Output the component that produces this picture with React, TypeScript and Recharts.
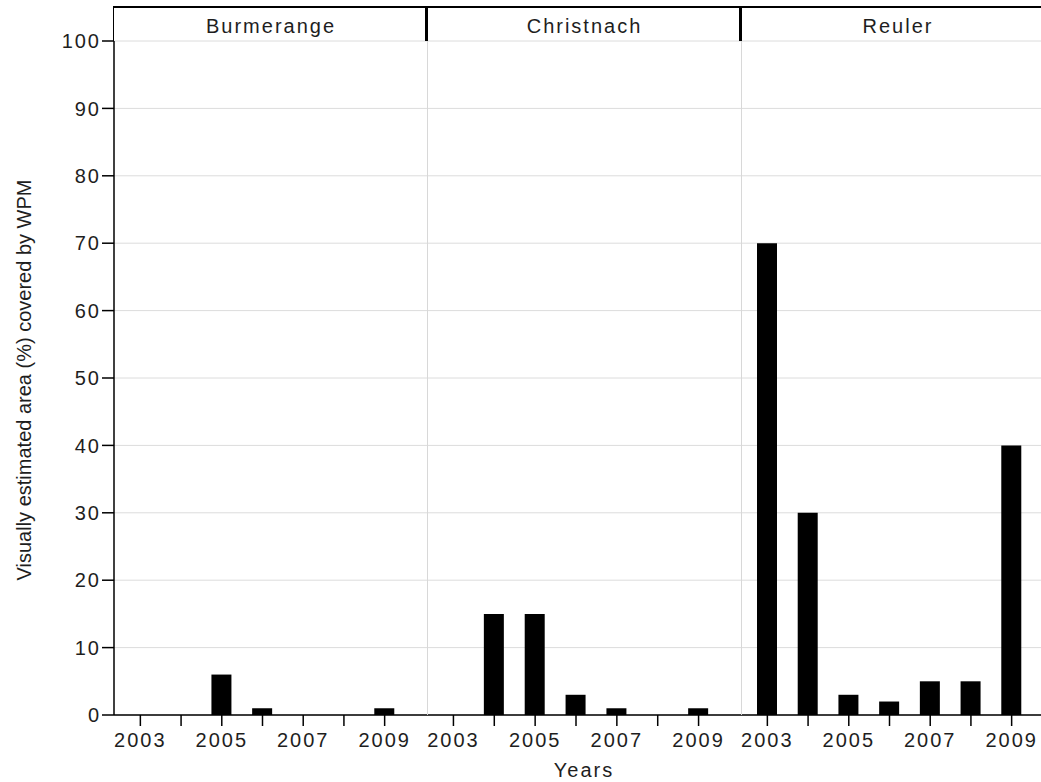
import { BarChart, Bar, XAxis, YAxis, CartesianGrid } from 'recharts';

const years = ['2003', '2004', '2005', '2006', '2007', '2008', '2009'];
const sites = ['Burmerange', 'Christnach', 'Reuler'];
const burmerange = [0, 0, 6, 1, 0, 0, 1];
const christnach = [0, 15, 15, 3, 1, 0, 1];
const reuler = [70, 30, 3, 2, 5, 5, 40];
const yTicks = [0, 10, 20, 30, 40, 50, 60, 70, 80, 90, 100];
const labeledYears = ['2003', '2005', '2007', '2009'];

const siteValues = [burmerange, christnach, reuler];

// panel geometry (plot areas sit side by side)
const panelLeft = [114, 427, 741];
const panelWidth = [313, 314, 313];
const plotTop = 41;
const plotBottom = 715;
const chartHeight = 782;

const font = '"Liberation Sans", Arial, sans-serif';
const textColor = '#1e1e1e';

function Panel({ idx }: { idx: number }) {
  const data = years.map((y, i) => ({ year: y, value: siteValues[idx][i] }));
  const first = idx === 0;
  const left = first ? 0 : panelLeft[idx];
  const width = first ? panelLeft[0] + panelWidth[0] : panelWidth[idx];

  return (
    <div style={{ position: 'absolute', left, top: 0 }}>
      <BarChart
        width={width}
        height={chartHeight}
        data={data}
        margin={{ top: plotTop, right: 0, bottom: 0, left: 0 }}
        barCategoryGap={0}
      >
        <CartesianGrid horizontal vertical={false} stroke="#dcdcdc" strokeWidth={1} />
        <XAxis
          dataKey="year"
          type="category"
          interval={0}
          height={chartHeight - plotBottom}
          padding={{ left: 6, right: 22 }}
          tickSize={11}
          tickMargin={7}
          axisLine={{ stroke: '#000', strokeWidth: 1.5 }}
          tickLine={{ stroke: '#000', strokeWidth: 1.5 }}
          tick={{ fontSize: 20, fill: textColor, fontFamily: font }}
          tickFormatter={(v: string) => (labeledYears.includes(v) ? v : '')}
        />
        <YAxis
          hide={!first}
          domain={[0, 100]}
          ticks={yTicks}
          width={114}
          tickSize={12}
          tickMargin={1}
          axisLine={{ stroke: '#000', strokeWidth: 1.5 }}
          tickLine={{ stroke: '#000', strokeWidth: 1.5 }}
          tick={{ fontSize: 20, fill: textColor, fontFamily: font }}
        />
        <Bar dataKey="value" fill="#000" barSize={20} isAnimationActive={false} />
      </BarChart>
    </div>
  );
}

export default function App() {
  return (
    <div
      style={{
        position: 'fixed',
        left: 0,
        top: 0,
        width: 1041,
        height: 782,
        overflow: 'hidden',
        background: '#fff',
        fontFamily: font,
      }}
    >
      <style>{`
        .recharts-cartesian-axis-tick-value { letter-spacing: 2px; }
      `}</style>

      {sites.map((_, i) => (
        <Panel key={i} idx={i} />
      ))}

      {/* light panel separators */}
      {[1, 2].map((i) => (
        <div
          key={'sep' + i}
          style={{
            position: 'absolute',
            left: panelLeft[i],
            top: plotTop,
            width: 1,
            height: plotBottom - plotTop,
            background: '#d8d8d8',
          }}
        />
      ))}

      {/* strip headers */}
      {sites.map((name, i) => (
        <div
          key={name}
          style={{
            position: 'absolute',
            left: i === 0 ? panelLeft[0] - 1 : panelLeft[i] - 2,
            top: 6,
            width: panelWidth[i] + 2,
            height: plotTop - 6,
            boxSizing: 'border-box',
            borderTop: '2px solid #000',
            borderLeft: i === 0 ? '1.5px solid #000' : '3px solid #000',
            textAlign: 'center',
            fontSize: 20,
            lineHeight: '22px',
            paddingTop: 7,
            letterSpacing: 2,
            color: textColor,
          }}
        >
          {name}
        </div>
      ))}

      {/* axis titles */}
      <svg style={{ position: 'absolute', left: 0, top: 0 }} width={1041} height={782} pointerEvents="none">
        <text
          transform="translate(31,380) rotate(-90)"
          textAnchor="middle"
          fontSize={20}
          fill={textColor}
          fontFamily={font}
        >
          Visually estimated area (%) covered by WPM
        </text>
        <text
          x={panelLeft[1] + panelWidth[1] / 2}
          y={777}
          textAnchor="middle"
          fontSize={20}
          fill={textColor}
          fontFamily={font}
          letterSpacing={2}
        >
          Years
        </text>
      </svg>
    </div>
  );
}
